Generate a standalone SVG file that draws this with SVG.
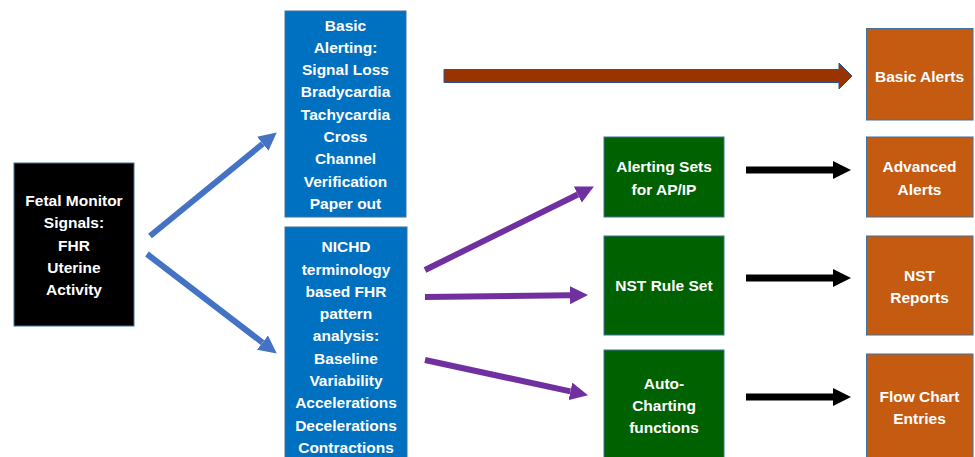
<svg xmlns="http://www.w3.org/2000/svg" width="975" height="457" viewBox="0 0 975 457">
<defs>
<style>
.box{stroke:#41719C;stroke-width:1}
.black{fill:#000000}
.blue{fill:#0070C0}
.green{fill:#006100}
.orange{fill:#C55A11}
text{font-family:"Liberation Sans",Arial,sans-serif;font-weight:bold;font-size:15.5px;fill:#FFFFFF;text-anchor:middle}
.c-blue{stroke:#4472C4;stroke-width:6;fill:none}
.c-purple{stroke:#7030A0;stroke-width:6;fill:none}
.c-black{stroke:#000000;stroke-width:7;fill:none}
</style>
<marker id="hBlue" markerUnits="userSpaceOnUse" viewBox="0 0 18 18" refX="0" refY="9" markerWidth="18" markerHeight="18" orient="auto"><path d="M0,0 L18,9 L0,18 z" fill="#4472C4"/></marker>
<marker id="hPurple" markerUnits="userSpaceOnUse" viewBox="0 0 18 18" refX="0" refY="9" markerWidth="18" markerHeight="18" orient="auto"><path d="M0,0 L18,9 L0,18 z" fill="#7030A0"/></marker>
<marker id="hBlack" markerUnits="userSpaceOnUse" viewBox="0 0 18 18" refX="0" refY="9" markerWidth="18" markerHeight="18" orient="auto"><path d="M0,0 L18,9 L0,18 z" fill="#000000"/></marker>
</defs>
<rect width="975" height="457" fill="#FFFFFF"/>

<g id="connectors">
<line class="c-blue" x1="150" y1="236" x2="262.8" y2="143.8" marker-end="url(#hBlue)"/>
<line class="c-blue" x1="147" y1="254" x2="262.5" y2="342.6" marker-end="url(#hBlue)"/>
<polygon points="444,69.5 839,69.5 839,63 852,76 839,89 839,82.5 444,82.5" fill="#993300" stroke="#2F528F" stroke-width="1"/>
<line class="c-purple" x1="425" y1="270" x2="577.8" y2="194.5" marker-end="url(#hPurple)"/>
<line class="c-purple" x1="425" y1="297" x2="570" y2="295.2" marker-end="url(#hPurple)"/>
<line class="c-purple" x1="425" y1="360" x2="570.4" y2="391.4" marker-end="url(#hPurple)"/>
<line class="c-black" x1="746" y1="170" x2="833" y2="170" marker-end="url(#hBlack)"/>
<line class="c-black" x1="746" y1="278" x2="833" y2="278" marker-end="url(#hBlack)"/>
<line class="c-black" x1="746" y1="397" x2="833" y2="397" marker-end="url(#hBlack)"/>
</g>

<g id="fetal-monitor">
<rect class="box black" x="14" y="163" width="120" height="163"/>
<text x="74" y="206">Fetal Monitor</text>
<text x="74" y="228.3">Signals:</text>
<text x="74" y="250.6">FHR</text>
<text x="74" y="272.9">Uterine</text>
<text x="74" y="295.2">Activity</text>
</g>

<g id="basic-alerting">
<rect class="box blue" x="285" y="11" width="121" height="206"/>
<text x="345.5" y="30.5">Basic</text>
<text x="345.5" y="52.8">Alerting:</text>
<text x="345.5" y="75.1">Signal Loss</text>
<text x="345.5" y="97.4">Bradycardia</text>
<text x="345.5" y="119.7">Tachycardia</text>
<text x="345.5" y="142">Cross</text>
<text x="345.5" y="164.3">Channel</text>
<text x="345.5" y="186.6">Verification</text>
<text x="345.5" y="208.9">Paper out</text>
</g>

<g id="nichd">
<rect class="box blue" x="285" y="227" width="122" height="240"/>
<text x="346" y="252.2">NICHD</text>
<text x="346" y="274.5">terminology</text>
<text x="346" y="296.8">based FHR</text>
<text x="346" y="319.1">pattern</text>
<text x="346" y="341.4">analysis:</text>
<text x="346" y="363.7">Baseline</text>
<text x="346" y="386">Variability</text>
<text x="346" y="408.3">Accelerations</text>
<text x="346" y="430.6">Decelerations</text>
<text x="346" y="452.9">Contractions</text>
</g>

<g id="alerting-sets">
<rect class="box green" x="604" y="137" width="120" height="80"/>
<text x="664" y="172.2">Alerting Sets</text>
<text x="664" y="194.5">for AP/IP</text>
</g>

<g id="nst-rule-set">
<rect class="box green" x="604" y="236" width="120" height="99"/>
<text x="664" y="291.2">NST Rule Set</text>
</g>

<g id="auto-charting">
<rect class="box green" x="604" y="350" width="120" height="117"/>
<text x="664" y="388.8">Auto-</text>
<text x="664" y="411.1">Charting</text>
<text x="664" y="433.4">functions</text>
</g>

<g id="basic-alerts">
<rect class="box orange" x="866.5" y="28.5" width="106.5" height="91.5"/>
<text x="919.5" y="82.2">Basic Alerts</text>
</g>

<g id="advanced-alerts">
<rect class="box orange" x="866.5" y="137" width="106.5" height="80"/>
<text x="919.5" y="172.2">Advanced</text>
<text x="919.5" y="194.5">Alerts</text>
</g>

<g id="nst-reports">
<rect class="box orange" x="866.5" y="236" width="106.5" height="99"/>
<text x="919.5" y="280.5">NST</text>
<text x="919.5" y="302.8">Reports</text>
</g>

<g id="flow-chart">
<rect class="box orange" x="866.5" y="354" width="106.5" height="113"/>
<text x="919.5" y="401.5">Flow Chart</text>
<text x="919.5" y="423.8">Entries</text>
</g>
</svg>
